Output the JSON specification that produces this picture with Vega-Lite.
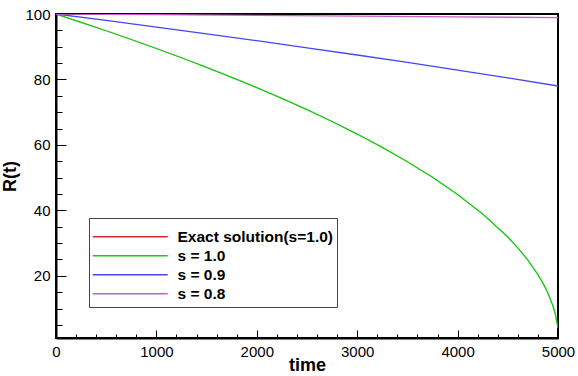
{
  "$schema": "https://vega.github.io/schema/vega-lite/v6.json",
  "autosize": {"type": "none"},
  "padding": {"left": 56, "top": 14, "right": 20, "bottom": 38},
  "width": 502,
  "height": 324,
  "background": "white",
  "config": {
    "view": {"stroke": "black", "strokeWidth": 2},
    "font": "Liberation Sans"
  },
  "data": {
    "values": [
      {"series": "Exact solution(s=1.0)", "t": 0, "R": 100},
      {"series": "Exact solution(s=1.0)", "t": 250, "R": 97.47},
      {"series": "Exact solution(s=1.0)", "t": 500, "R": 94.88},
      {"series": "Exact solution(s=1.0)", "t": 750, "R": 92.21},
      {"series": "Exact solution(s=1.0)", "t": 1000, "R": 89.46},
      {"series": "Exact solution(s=1.0)", "t": 1250, "R": 86.63},
      {"series": "Exact solution(s=1.0)", "t": 1500, "R": 83.69},
      {"series": "Exact solution(s=1.0)", "t": 1750, "R": 80.66},
      {"series": "Exact solution(s=1.0)", "t": 2000, "R": 77.5},
      {"series": "Exact solution(s=1.0)", "t": 2250, "R": 74.21},
      {"series": "Exact solution(s=1.0)", "t": 2500, "R": 70.77},
      {"series": "Exact solution(s=1.0)", "t": 2750, "R": 67.15},
      {"series": "Exact solution(s=1.0)", "t": 3000, "R": 63.32},
      {"series": "Exact solution(s=1.0)", "t": 3250, "R": 59.25},
      {"series": "Exact solution(s=1.0)", "t": 3500, "R": 54.87},
      {"series": "Exact solution(s=1.0)", "t": 3750, "R": 50.12},
      {"series": "Exact solution(s=1.0)", "t": 4000, "R": 44.86},
      {"series": "Exact solution(s=1.0)", "t": 4250, "R": 38.91},
      {"series": "Exact solution(s=1.0)", "t": 4500, "R": 31.85},
      {"series": "Exact solution(s=1.0)", "t": 4600, "R": 28.54},
      {"series": "Exact solution(s=1.0)", "t": 4700, "R": 24.8},
      {"series": "Exact solution(s=1.0)", "t": 4800, "R": 20.38},
      {"series": "Exact solution(s=1.0)", "t": 4850, "R": 17.76},
      {"series": "Exact solution(s=1.0)", "t": 4900, "R": 14.69},
      {"series": "Exact solution(s=1.0)", "t": 4950, "R": 10.76},
      {"series": "Exact solution(s=1.0)", "t": 4975, "R": 8.12},
      {"series": "Exact solution(s=1.0)", "t": 5000, "R": 4.0},
      {"series": "s = 1.0", "t": 0, "R": 100},
      {"series": "s = 1.0", "t": 250, "R": 97.47},
      {"series": "s = 1.0", "t": 500, "R": 94.88},
      {"series": "s = 1.0", "t": 750, "R": 92.21},
      {"series": "s = 1.0", "t": 1000, "R": 89.46},
      {"series": "s = 1.0", "t": 1250, "R": 86.63},
      {"series": "s = 1.0", "t": 1500, "R": 83.69},
      {"series": "s = 1.0", "t": 1750, "R": 80.66},
      {"series": "s = 1.0", "t": 2000, "R": 77.5},
      {"series": "s = 1.0", "t": 2250, "R": 74.21},
      {"series": "s = 1.0", "t": 2500, "R": 70.77},
      {"series": "s = 1.0", "t": 2750, "R": 67.15},
      {"series": "s = 1.0", "t": 3000, "R": 63.32},
      {"series": "s = 1.0", "t": 3250, "R": 59.25},
      {"series": "s = 1.0", "t": 3500, "R": 54.87},
      {"series": "s = 1.0", "t": 3750, "R": 50.12},
      {"series": "s = 1.0", "t": 4000, "R": 44.86},
      {"series": "s = 1.0", "t": 4250, "R": 38.91},
      {"series": "s = 1.0", "t": 4500, "R": 31.85},
      {"series": "s = 1.0", "t": 4600, "R": 28.54},
      {"series": "s = 1.0", "t": 4700, "R": 24.8},
      {"series": "s = 1.0", "t": 4800, "R": 20.38},
      {"series": "s = 1.0", "t": 4850, "R": 17.76},
      {"series": "s = 1.0", "t": 4900, "R": 14.69},
      {"series": "s = 1.0", "t": 4950, "R": 10.76},
      {"series": "s = 1.0", "t": 4975, "R": 8.12},
      {"series": "s = 1.0", "t": 5000, "R": 4.0},
      {"series": "s = 0.9", "t": 0, "R": 100},
      {"series": "s = 0.9", "t": 500, "R": 98.02},
      {"series": "s = 0.9", "t": 1000, "R": 96.0},
      {"series": "s = 0.9", "t": 1500, "R": 93.94},
      {"series": "s = 0.9", "t": 2000, "R": 91.84},
      {"series": "s = 0.9", "t": 2500, "R": 89.68},
      {"series": "s = 0.9", "t": 3000, "R": 87.47},
      {"series": "s = 0.9", "t": 3500, "R": 85.2},
      {"series": "s = 0.9", "t": 4000, "R": 82.87},
      {"series": "s = 0.9", "t": 4500, "R": 80.47},
      {"series": "s = 0.9", "t": 5000, "R": 78.0},
      {"series": "s = 0.8", "t": 0, "R": 100},
      {"series": "s = 0.8", "t": 1000, "R": 99.78},
      {"series": "s = 0.8", "t": 2000, "R": 99.56},
      {"series": "s = 0.8", "t": 3000, "R": 99.34},
      {"series": "s = 0.8", "t": 4000, "R": 99.12},
      {"series": "s = 0.8", "t": 5000, "R": 98.9}
    ]
  },
  "encoding": {
    "x": {
      "field": "t", "type": "quantitative",
      "scale": {"domain": [0, 5000], "nice": false, "zero": false},
      "axis": {
        "title": "time",
        "titleFont": "Liberation Sans", "titleFontSize": 18, "titleFontWeight": "bold", "titleColor": "black",
        "titlePadding": -7,
        "values": [0,200,400,600,800,1000,1200,1400,1600,1800,2000,2200,2400,2600,2800,3000,3200,3400,3600,3800,4000,4200,4400,4600,4800,5000],
        "labelExpr": "datum.value % 1000 === 0 ? datum.label : ''",
        "format": "d",
        "labelFont": "Liberation Sans", "labelFontSize": 15, "labelColor": "black",
        "labelPadding": 14,
        "labelFlush": false, "labelOverlap": false,
        "tickSize": {"condition": {"test": "datum.value % 1000 === 0", "value": -8}, "value": -4},
        "tickColor": "black", "tickWidth": 1,
        "domainColor": "black", "domainWidth": 2,
        "grid": false
      }
    },
    "y": {
      "field": "R", "type": "quantitative",
      "scale": {"domain": [1, 100], "nice": false, "zero": false},
      "axis": {
        "title": "R(t)",
        "titleFont": "Liberation Sans", "titleFontSize": 18, "titleFontWeight": "bold", "titleColor": "black",
        "titlePadding": 5,
        "values": [5,10,15,20,25,30,35,40,45,50,55,60,65,70,75,80,85,90,95,100],
        "labelExpr": "datum.value % 20 === 0 ? datum.label : ''",
        "labelFont": "Liberation Sans", "labelFontSize": 15, "labelColor": "black",
        "labelPadding": 16,
        "labelFlush": false, "labelOverlap": false,
        "tickSize": {"condition": {"test": "datum.value % 20 === 0", "value": -10}, "value": -6},
        "tickColor": "black", "tickWidth": 1,
        "domainColor": "black", "domainWidth": 2,
        "grid": false
      }
    },
    "color": {
      "field": "series", "type": "nominal",
      "scale": {
        "domain": ["Exact solution(s=1.0)", "s = 1.0", "s = 0.9", "s = 0.8"],
        "range": ["#d42a2a", "#10d010", "#4646f0", "#cc5ccc"]
      },
      "legend": {
        "title": " ",
        "titleFontSize": 7,
        "titlePadding": 0,
        "orient": "none",
        "legendX": 33,
        "legendY": 204,
        "padding": 4,
        "strokeColor": "#444444",
        "fillColor": "white",
        "symbolType": "M -1.6 0 L 13.4 0",
        "symbolSize": 100,
        "symbolStrokeWidth": 1.5,
        "labelFont": "Liberation Sans", "labelFontSize": 15.5, "labelFontWeight": "bold", "labelColor": "black",
        "labelOffset": 69,
        "rowPadding": 2,
        "labelLimit": 300
      }
    }
  },
  "layer": [
    {
      "transform": [{"filter": "datum.series === 'Exact solution(s=1.0)'"}],
      "mark": {"type": "line", "strokeWidth": 0.5, "clip": true}
    },
    {
      "transform": [{"filter": "datum.series !== 'Exact solution(s=1.0)'"}],
      "mark": {"type": "line", "strokeWidth": 1.3, "clip": true}
    }
  ]
}
